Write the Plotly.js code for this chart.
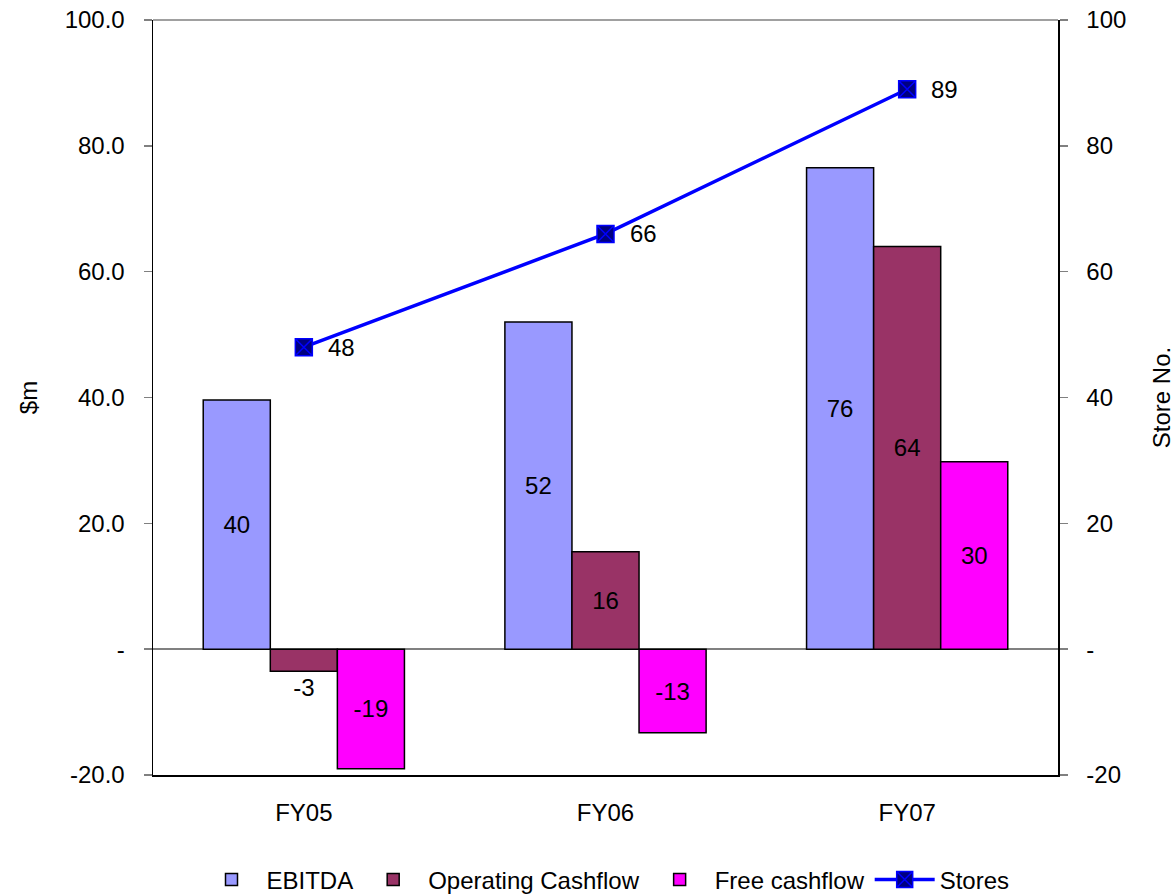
<!DOCTYPE html>
<html>
<head>
<meta charset="utf-8">
<script src="https://cdn.plot.ly/plotly-3.0.1.min.js"></script>
<style>html,body{margin:0;padding:0;background:#fff;}#chart{width:1175px;height:896px;}</style>
</head>
<body>
<div id="chart"></div>
<script>
const categories = ["FY05", "FY06", "FY07"];
const ebitda = [39.6, 52.0, 76.5];
const ebitdaLabels = ["40", "52", "76"];
const opCashflow = [-3.5, 15.5, 64.0];
const opLabels = ["-3", "16", "64"];
const freeCashflow = [-19.0, -13.3, 29.8];
const freeLabels = ["-19", "-13", "30"];
const stores = [48, 66, 89];
const storeLabels = ["48", "66", "89"];
const leftTickVals = [-20, 0, 20, 40, 60, 80, 100];
const leftTickText = ["-20.0", "-", "20.0", "40.0", "60.0", "80.0", "100.0"];
const rightTickText = ["-20", "-", "20", "40", "60", "80", "100"];

const font = {family: "Liberation Sans, Arial, sans-serif", size: 24, color: "#000"};

const barCommon = {
  type: "bar",
  x: categories,
  insidetextanchor: "middle",
  textfont: font,
  insidetextfont: font,
  outsidetextfont: font,
  constraintext: "none",
  cliponaxis: false,
  hoverinfo: "skip"
};

const traces = [
  Object.assign({}, barCommon, {
    name: "EBITDA", y: ebitda, text: ebitdaLabels, textposition: "inside",
    marker: {color: "#9999FF", line: {color: "#000", width: 1.5}}
  }),
  Object.assign({}, barCommon, {
    name: "Operating Cashflow", y: opCashflow, text: opLabels,
    textposition: ["outside", "inside", "inside"],
    marker: {color: "#993366", line: {color: "#000", width: 1.5}}
  }),
  Object.assign({}, barCommon, {
    name: "Free cashflow", y: freeCashflow, text: freeLabels, textposition: "inside",
    marker: {color: "#FF00FF", line: {color: "#000", width: 1.5}}
  }),
  {
    type: "scatter", mode: "lines+markers", name: "Stores",
    x: categories, y: stores, yaxis: "y2",
    line: {color: "#0000FF", width: 3.5},
    marker: {symbol: "square-x", size: 17, color: "#000080", line: {color: "#0000FF", width: 1.5}},
    cliponaxis: false,
    hoverinfo: "skip"
  }
];

const storeAnnotations = categories.map((c, i) => ({
  x: c, y: stores[i], xref: "x", yref: "y2",
  text: storeLabels[i], showarrow: false,
  xanchor: "left", yanchor: "middle", xshift: 22,
  font: font
}));

const layout = {
  width: 1175, height: 896,
  margin: {l: 153, r: 117, t: 20, b: 121, autoexpand: false},
  paper_bgcolor: "#fff", plot_bgcolor: "#fff",
  font: font,
  barmode: "group",
  bargap: 0.333,
  bargroupgap: 0,
  showlegend: true,
  legend: {orientation: "h", x: 0.5, xanchor: "center", y: -0.139, yanchor: "middle",
           font: font, traceorder: "normal", itemwidth: 60},
  xaxis: {
    type: "category", range: [-0.5, 2.5],
    showline: true, linecolor: "#000", linewidth: 1.5,
    ticks: "", showgrid: false, tickfont: font, ticklabelstandoff: 16
  },
  yaxis: {
    range: [-20, 100], tickvals: leftTickVals, ticktext: leftTickText,
    showgrid: false, zeroline: true, zerolinecolor: "#808080", zerolinewidth: 1.5,
    showline: true, linecolor: "#000", linewidth: 1.5,
    ticks: "outside", ticklen: 8, tickcolor: "#808080", tickwidth: 1.5,
    tickfont: font, ticklabelstandoff: 14,
    title: {text: "$m", font: font, standoff: 20}
  },
  yaxis2: {
    range: [-20, 100], tickvals: leftTickVals, ticktext: rightTickText,
    overlaying: "y", side: "right",
    showgrid: false, zeroline: false,
    showline: true, linecolor: "#000", linewidth: 1.5,
    ticks: "outside", ticklen: 8, tickcolor: "#808080", tickwidth: 1.5,
    tickfont: font, ticklabelstandoff: 14,
    title: {text: "Store No.", font: font, standoff: 28}
  },
  annotations: storeAnnotations,
  shapes: [
    {type: "line", xref: "paper", yref: "paper", x0: 0, x1: 1, y0: 1, y1: 1,
     line: {color: "#808080", width: 1.5}}
  ]
};

Plotly.newPlot("chart", traces, layout, {displayModeBar: false, staticPlot: true});
</script>
</body>
</html>
